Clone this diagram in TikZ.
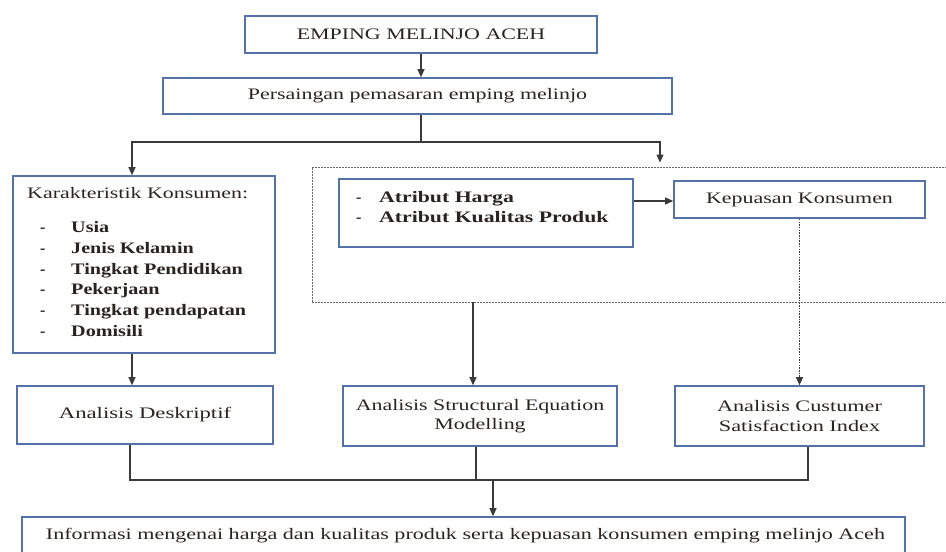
\documentclass[tikz,border=0pt]{standalone}
\usepackage{fontspec}
\usepackage{graphicx}
\setmainfont{Liberation Serif}
\usetikzlibrary{arrows.meta}
\definecolor{boxblue}{HTML}{5472A8}
\definecolor{lineg}{HTML}{3A3A3A}
\definecolor{txt}{HTML}{2A2420}
\newcommand{\sx}[2][1.37]{\scalebox{#1}[1]{#2}}
\begin{document}
\begin{tikzpicture}[x=1pt,y=-1pt,
  box/.style={draw=boxblue, line width=1.6pt, fill=white, inner sep=0pt, text=txt},
  grpbox/.style={draw=gray!80!black, line width=0.9pt, dash pattern=on 1.8pt off 1.2pt, inner sep=0pt},
  conn/.style={draw=lineg, line width=1.2pt},
  arr/.style={conn, -{Triangle[length=8pt,width=7pt]}},
  lbl/.style={text=txt, inner sep=0pt},
  itm/.style={lbl, anchor=base west, font=\bfseries\fontsize{16}{19}\selectfont},
  every node/.style={font=\fontsize{16}{19.5}\selectfont}]
\useasboundingbox (0,0) rectangle (946,552);
\fill[white] (0,0) rectangle (946,552);
% group
\node[grpbox, minimum width=640pt, minimum height=135pt] (grp) at (632,234.5) {};
% boxes
\node[box, minimum width=352pt, minimum height=37pt] (top) at (421,34.5) {\sx{EMPING MELINJO ACEH}};
\node[box, minimum width=509pt, minimum height=36pt] (pers) at (417.5,96) {\sx{Persaingan pemasaran emping melinjo}};
\node[box, minimum width=262pt, minimum height=177pt] (kar) at (144,264.5) {};
\node[box, minimum width=294pt, minimum height=68pt] (atr) at (486,213) {};
\node[box, minimum width=251pt, minimum height=37pt] (kep) at (799.5,199.5) {\sx{Kepuasan Konsumen}};
\node[box, minimum width=256pt, minimum height=58pt] (des) at (145,415) {\sx[1.42]{Analisis Deskriptif}};
\node[box, minimum width=274pt, minimum height=60pt, align=center] (sem) at (480,416) {\sx{Analisis Structural Equation}\\\sx{Modelling}};
\node[box, minimum width=249pt, minimum height=60pt, align=center] (csi) at (799.5,416) {\sx[1.39]{Analisis Custumer}\\\sx[1.39]{Satisfaction Index}};
\node[box, minimum width=883pt, minimum height=46pt] (info) at (463.5,540) {};
% texts inside boxes
\node[lbl, anchor=west] (kart) at (27,193) {\sx{Karakteristik Konsumen:}};
\foreach \t [count=\i from 0] in {Usia,Jenis Kelamin,Tingkat Pendidikan,Pekerjaan,Tingkat pendapatan,Domisili}{
  \node[itm] (kd\i) at (40,{232.5+20.8*\i}) {-};
  \node[itm] (ki\i) at (71,{232.5+20.8*\i}) {\sx[1.26]{\t}};
}
\node[itm] (ad1) at (356,202.5) {-};
\node[itm] (ai1) at (379,202.5) {\sx[1.36]{Atribut Harga}};
\node[itm] (ad2) at (356,222.5) {-};
\node[itm] (ai2) at (379,222.5) {\sx[1.36]{Atribut Kualitas Produk}};
\node[lbl] (infot) at (465.5,536) {\sx[1.38]{Informasi mengenai harga dan kualitas produk serta kepuasan konsumen emping melinjo Aceh}};
% coordinates
\coordinate (split) at (421,142);
\coordinate (kL) at (132,142);
\coordinate (gR) at (660,142);
\coordinate (xs) at (473,0);
\coordinate (xd) at (130,0);
\coordinate (xm) at (476,0);
\coordinate (xc) at (808,0);
\coordinate (j) at (493,480);
% connectors
\draw[arr] (top.south) -- (top.south |- pers.north);
\draw[conn] (pers.south -| split) -- (split);
\draw[arr] (split) -- (kL) -- (kL |- kar.north);
\draw[arr, shorten >=4pt] (split) -- (gR) -- (gR |- grp.north);
\draw[arr] (kar.south -| kL) -- (kL |- des.north);
\draw[arr] ([yshift=12pt]atr.east) -- ([yshift=12pt]atr.east -| kep.west);
\draw[arr] (grp.south -| xs) -- (sem.north -| xs);
\draw[arr, dash pattern=on 1.5pt off 1.2pt] (kep.south) -- (csi.north);
\draw[conn] (des.south -| xd) -- (xd |- j) -- (xc |- j) -- (csi.south -| xc);
\draw[conn] (sem.south -| xm) -- (xm |- j);
\draw[arr] (j) -- (info.north -| j);
\end{tikzpicture}
\end{document}
